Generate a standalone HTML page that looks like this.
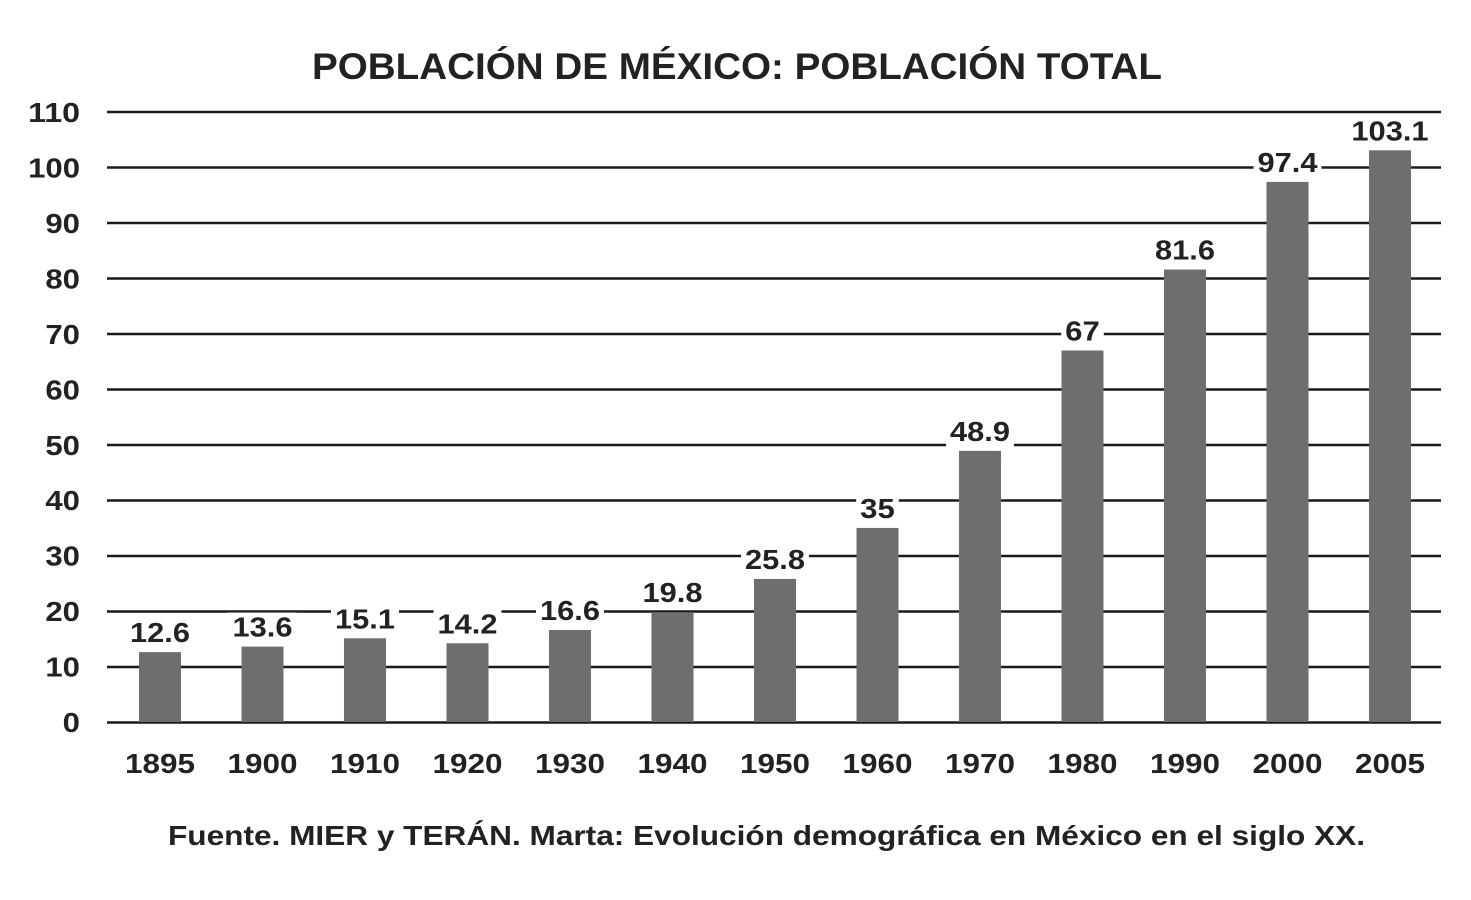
<!DOCTYPE html>
<html><head><meta charset="utf-8"><style>
html,body{margin:0;padding:0;background:#fff;}
svg{display:block;}
text{font-family:"Liberation Sans",Arial,sans-serif;font-weight:bold;fill:#222;}
</style></head><body>
<svg width="1471" height="900" viewBox="0 0 1471 900" xmlns="http://www.w3.org/2000/svg">
<text x="312" y="79" font-size="37" textLength="850" lengthAdjust="spacingAndGlyphs">POBLACIÓN DE MÉXICO: POBLACIÓN TOTAL</text>
<g stroke="#1a1a1a" stroke-width="2.5">
<line x1="107" x2="1441" y1="112" y2="112"/>
<line x1="107" x2="1441" y1="167.5" y2="167.5"/>
<line x1="107" x2="1441" y1="223" y2="223"/>
<line x1="107" x2="1441" y1="278.5" y2="278.5"/>
<line x1="107" x2="1441" y1="334" y2="334"/>
<line x1="107" x2="1441" y1="389.5" y2="389.5"/>
<line x1="107" x2="1441" y1="445" y2="445"/>
<line x1="107" x2="1441" y1="500.5" y2="500.5"/>
<line x1="107" x2="1441" y1="556" y2="556"/>
<line x1="107" x2="1441" y1="611.5" y2="611.5"/>
<line x1="107" x2="1441" y1="667" y2="667"/>
<line x1="107" x2="1441" y1="722.5" y2="722.5"/>
</g>
<g font-size="28" id="yax"></g>
<g fill="#6f6d70" id="bars"></g>
<g id="labels" font-size="28"></g>
<g font-size="28" id="years"></g>
<text x="168" y="845" font-size="28" textLength="1197" lengthAdjust="spacingAndGlyphs">Fuente. MIER y TERÁN. Marta: Evolución demográfica en México en el siglo XX.</text>
<script>
var ns="http://www.w3.org/2000/svg";
function T(p,x,y,s,w){var t=document.createElementNS(ns,"text");t.setAttribute("x",x);t.setAttribute("y",y);t.setAttribute("textLength",w);t.setAttribute("lengthAdjust","spacingAndGlyphs");t.textContent=s;p.appendChild(t);}
var ya=document.getElementById("yax");
for(var v=0;v<=110;v+=10){var s=String(v),w=s.length*17.3;T(ya,80-w,732-v*5.545,s,w);}
var d=[["1895",12.6],["1900",13.6],["1910",15.1],["1920",14.2],["1930",16.6],["1940",19.8],["1950",25.8],["1960",35],["1970",48.9],["1980",67],["1990",81.6],["2000",97.4],["2005",103.1]];
var b=document.getElementById("bars"),l=document.getElementById("labels"),yr=document.getElementById("years");
d.forEach(function(e,i){var cx=160+i*102.5,y=722-e[1]*5.545;
var r=document.createElementNS(ns,"rect");r.setAttribute("x",cx-21);r.setAttribute("width",42);r.setAttribute("y",y);r.setAttribute("height",722-y);b.appendChild(r);
var s=String(e[1]),w=s.indexOf(".")>=0?(s.length-1)*17.3+8:s.length*17.3;
var bg=document.createElementNS(ns,"rect");bg.setAttribute("x",cx-w/2-4);bg.setAttribute("width",w+8);bg.setAttribute("y",y-34);bg.setAttribute("height",30);bg.setAttribute("fill","#fff");l.appendChild(bg);
T(l,cx-w/2,y-10,s,w);
T(yr,cx-35,773,e[0],70);});
</script>
</svg>
</body></html>
